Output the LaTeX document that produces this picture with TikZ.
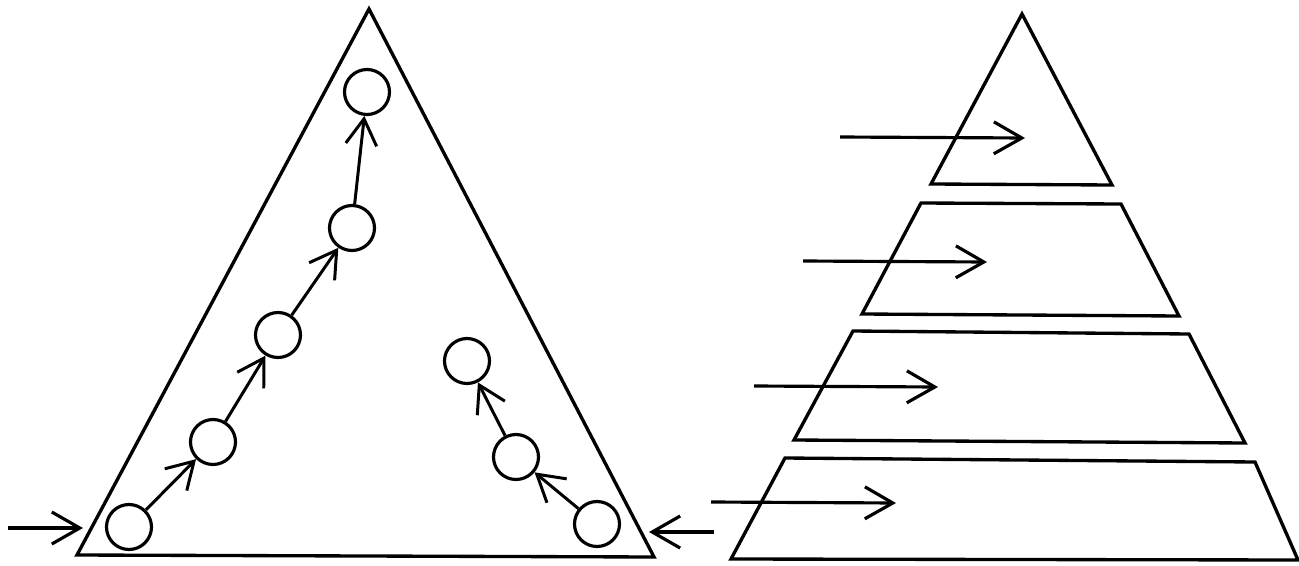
\documentclass[tikz,border=0pt]{standalone}
\usetikzlibrary{arrows.meta}
\begin{document}
\begin{tikzpicture}[x=0.02cm,y=-0.02cm,
  shape line/.style={line width=1.9pt,line join=miter},
  ball/.style={circle,draw,line width=1.8pt,minimum size=0.9cm,inner sep=0pt},
  flow/.style={line width=1.8pt,-{Straight Barb[length=0.56cm,width=0.64cm,line width=1.8pt]}},
  link/.style={line width=1.7pt,-{Straight Barb[length=0.52cm,width=0.62cm,line width=1.7pt]}}]
\useasboundingbox (0,0) rectangle (1299,565);
% left triangle
\draw[shape line] (369,9) -- (77,555) -- (654,557) -- cycle;
% circles
\node[ball] (c1) at (129,527) {};
\node[ball] (c2) at (213,442) {};
\node[ball] (c3) at (278,335) {};
\node[ball] (c4) at (352,228) {};
\node[ball] (c5) at (367,92) {};
\node[ball] (c6) at (597,524) {};
\node[ball] (c7) at (516,457) {};
\node[ball] (c8) at (467,361) {};
\draw[link] (c1) -- (c2);
\draw[link] (c2) -- (c3);
\draw[link] (c3) -- (c4);
\draw[link] (c4) -- (c5);
\draw[link] (c6) -- (c7);
\draw[link] (c7) -- (c8);
% entry arrows
\coordinate (inLs) at (8,528);
\coordinate (inLe) at (83,528);
\coordinate (inRs) at (714,532);
\coordinate (inRe) at (649,532);
\draw[flow] (inLs) -- (inLe);
\draw[flow] (inRs) -- (inRe);
% right pyramid
\draw[shape line] (1022,14) -- (931,184) -- (1112,185) -- cycle;
\draw[shape line] (921,203) -- (1121,204) -- (1179,316) -- (862,314) -- cycle;
\draw[shape line] (853,331) -- (1189,334) -- (1245,443) -- (794,440) -- cycle;
\draw[shape line] (785,458) -- (1255,462) -- (1298,560) -- (731,559) -- cycle;
% arrows into pyramid levels
\coordinate (a1s) at (840,137);  \coordinate (a1e) at (1025,138);
\coordinate (a2s) at (803,261);  \coordinate (a2e) at (987,262);
\coordinate (a3s) at (754,386);  \coordinate (a3e) at (938,387);
\coordinate (a4s) at (711,502);  \coordinate (a4e) at (896,503);
\draw[flow] (a1s) -- (a1e);
\draw[flow] (a2s) -- (a2e);
\draw[flow] (a3s) -- (a3e);
\draw[flow] (a4s) -- (a4e);
\end{tikzpicture}
\end{document}
